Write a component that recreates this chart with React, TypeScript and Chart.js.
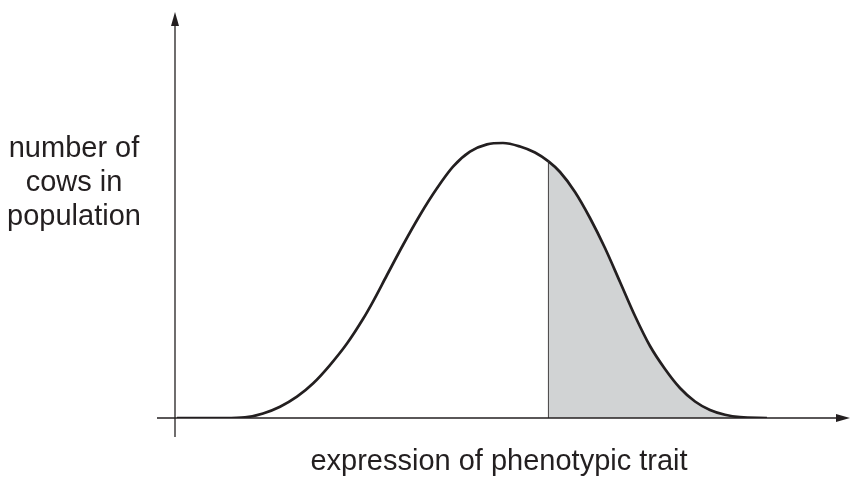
import React, { useEffect, useRef } from "react";
import { Chart, registerables } from "chart.js";

Chart.register(...registerables);

// Distribution curve (trait expression vs. number of cows), arbitrary units 0..100
const curveX = [0.3, 7.41, 10.37, 13.04, 15.56, 18.07, 20.44, 22.96, 25.48, 27.85, 29.19, 31.41, 33.78, 36.3, 38.81, 41.19, 43.7, 46.22, 48.59, 51.11, 53.33, 55.33, 57.04, 59.26, 61.48, 63.7, 65.93, 68.15, 70.37, 72.59, 74.81, 77.04, 79.26, 81.48, 83.7, 87.7];
const curveY = [0, 0, 0.17, 1.11, 2.78, 5.25, 8.5, 13.05, 18.35, 24.38, 28.25, 35.22, 42.61, 50.0, 56.57, 61.9, 65.59, 67.41, 67.73, 66.87, 65.39, 63.2, 60.59, 55.67, 49.26, 41.87, 33.5, 25.12, 17.73, 12.07, 7.39, 4.06, 1.97, 0.79, 0.2, 0];
const thresholdX = 55.33;

const yLabelLines = ["number of", "cows in", "population"];
const xLabel = "expression of phenotypic trait";

const INK = "#231f20";
const SHADE = "#d1d3d4";
const FONT = '29px "Liberation Sans", Arial, Helvetica, sans-serif';

export default function App() {
  const ref = useRef<HTMLCanvasElement | null>(null);

  useEffect(() => {
    const canvas = ref.current;
    if (!canvas) return;
    const pts = curveX.map((x, i) => ({ x, y: curveY[i] }));
    const ti = curveX.indexOf(thresholdX);
    const thresholdY = curveY[ti];

    const axesPlugin = {
      id: "axesArrows",
      afterDatasetsDraw(chart: any) {
        const { ctx, chartArea } = chart;
        const xs = chart.scales.x;
        const ys = chart.scales.y;
        const x0 = xs.getPixelForValue(0);
        const y0 = ys.getPixelForValue(0);
        const xEnd = chartArea.right;
        const yTop = chartArea.top;
        ctx.save();
        ctx.strokeStyle = INK;
        ctx.fillStyle = INK;
        ctx.lineWidth = 1.3;
        // x axis
        ctx.beginPath();
        ctx.moveTo(x0 - 18, y0);
        ctx.lineTo(xEnd - 12, y0);
        ctx.stroke();
        // y axis
        ctx.beginPath();
        ctx.moveTo(x0, y0 + 19);
        ctx.lineTo(x0, yTop + 12);
        ctx.stroke();
        // arrow heads
        ctx.beginPath();
        ctx.moveTo(x0, yTop);
        ctx.lineTo(x0 - 4, yTop + 14);
        ctx.lineTo(x0 + 4, yTop + 14);
        ctx.closePath();
        ctx.fill();
        ctx.beginPath();
        ctx.moveTo(xEnd, y0);
        ctx.lineTo(xEnd - 14, y0 - 4);
        ctx.lineTo(xEnd - 14, y0 + 4);
        ctx.closePath();
        ctx.fill();
        // labels
        ctx.font = FONT;
        ctx.textAlign = "center";
        ctx.textBaseline = "alphabetic";
        yLabelLines.forEach((t, i) => ctx.fillText(t, 74, 157 + i * 34));
        ctx.fillText(xLabel, 499, 470);
        ctx.restore();
      },
    };

    const chart = new Chart(canvas, {
      type: "line",
      data: {
        datasets: [
          {
            data: pts,
            borderColor: INK,
            borderWidth: 2.7,
            pointRadius: 0,
            cubicInterpolationMode: "monotone",
            fill: "origin",
            backgroundColor: "rgba(0,0,0,0)",
            segment: {
              backgroundColor: (c: any) => (c.p0.parsed.x >= thresholdX ? SHADE : "rgba(0,0,0,0)"),
            },
            order: 0,
          } as any,
          {
            data: [
              { x: thresholdX, y: 0 },
              { x: thresholdX, y: thresholdY },
            ],
            borderColor: INK,
            borderWidth: 1.1,
            pointRadius: 0,
            fill: false,
            tension: 0,
            order: 1,
          },
        ],
      },
      options: {
        responsive: false,
        animation: false,
        layout: { padding: { left: 175, right: 7, top: 12, bottom: 65 } },
        plugins: { legend: { display: false }, tooltip: { enabled: false } },
        scales: {
          x: { type: "linear", min: 0, max: 100, display: false },
          y: { type: "linear", min: 0, max: 100, display: false },
        },
      },
      plugins: [axesPlugin],
    });
    return () => chart.destroy();
  }, []);

  return (
    <div style={{ position: "fixed", left: 0, top: 0, width: 857, height: 483, background: "#fff" }}>
      <canvas ref={ref} width={857} height={483} style={{ width: 857, height: 483, display: "block" }} />
    </div>
  );
}
